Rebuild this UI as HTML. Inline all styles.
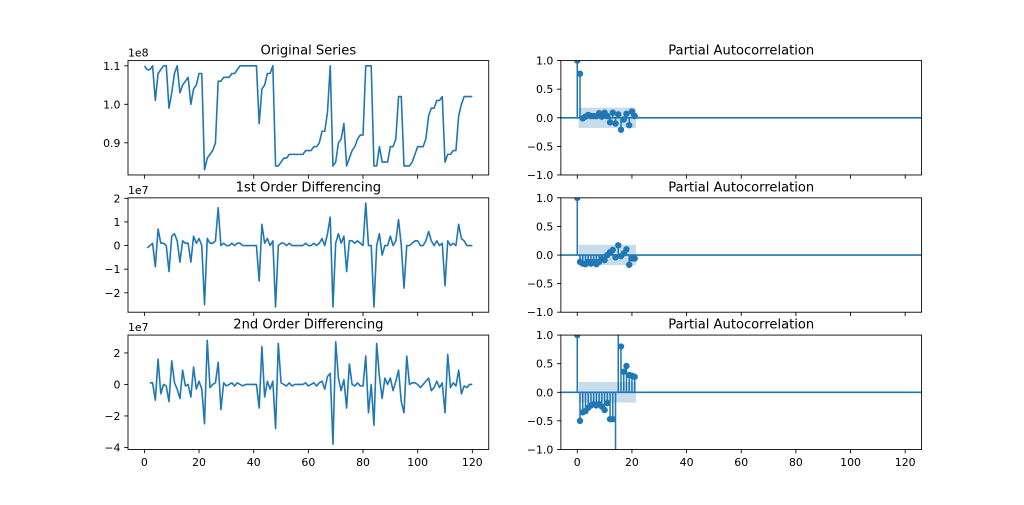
<!DOCTYPE html>
<html>
<head>
<meta charset="utf-8">
<style>
html,body{margin:0;padding:0;background:#fff;}
svg{display:block;}
text{font-family:"DejaVu Sans","Liberation Sans",sans-serif;fill:#000;}
.tk{font-size:10.9px;}
.tt{font-size:13.1px;}
</style>
</head>
<body>
<svg width="1024" height="505" viewBox="0 0 1024 505" xmlns="http://www.w3.org/2000/svg">
<rect x="0" y="0" width="1024" height="505" fill="#fff"/>
<defs>
<clipPath id="cL1"><rect x="128" y="60.6" width="360.73" height="114.37"/></clipPath>
<clipPath id="cL2"><rect x="128" y="197.84" width="360.73" height="114.37"/></clipPath>
<clipPath id="cL3"><rect x="128" y="335.08" width="360.73" height="114.37"/></clipPath>
<clipPath id="cR1"><rect x="560.87" y="60.6" width="360.73" height="114.37"/></clipPath>
<clipPath id="cR2"><rect x="560.87" y="197.84" width="360.73" height="114.37"/></clipPath>
<clipPath id="cR3"><rect x="560.87" y="335.08" width="360.73" height="114.37"/></clipPath>
</defs>

<!-- ===== Left column series ===== -->
<g clip-path="url(#cL1)">
<polyline transform="matrix(2.73278,0,0,-3.85077,144.397,489.383)" vector-effect="non-scaling-stroke" fill="none" stroke="#1f77b4" stroke-width="1.6" stroke-linejoin="round" points="0,110 1,109 2,109 3,110 4,101 5,108 6,109 7,110 8,110 9,99 10,103 11,108 12,110 13,103 14,105 15,106 16,107 17,100 18,104 19,105 20,108 21,108 22,83 23,86 24,87 25,88 26,90 27,106 28,106 29,107 30,107 31,107 32,108 33,108 34,109 35,110 36,110 37,110 38,110 39,110 40,110 41,110 42,95 43,104 44,105 45,108 46,108 47,110 48,84 49,84 50,85 51,86 52,86 53,87 54,87 55,87 56,87 57,87 58,87 59,88 60,88 61,88 62,89 63,89 64,90 65,93 66,93 67,98 68,110 69,84 70,85 71,90 72,91 73,95 74,84 75,86 76,88 77,89 78,91 79,92 80,92 81,110 82,110 83,110 84,84 85,84 86,89 87,85 88,85 89,85 90,89 91,89 92,91 93,102 94,102 95,84 96,84 97,84 98,85 99,87 100,89 101,89 102,89 103,91 104,97 105,99 106,99 107,101 108,101 109,102 110,85 111,87 112,87 113,88 114,88 115,97 116,100 117,102 118,102 119,102 120,102"/>
</g>
<g clip-path="url(#cL2)">
<polyline transform="matrix(2.73278,0,0,-2.36298,144.397,245.574)" vector-effect="non-scaling-stroke" fill="none" stroke="#1f77b4" stroke-width="1.6" stroke-linejoin="round" points="1,-1 2,0 3,1 4,-9 5,7 6,1 7,1 8,0 9,-11 10,4 11,5 12,2 13,-7 14,2 15,1 16,1 17,-7 18,4 19,1 20,3 21,0 22,-25 23,3 24,1 25,1 26,2 27,16 28,0 29,1 30,0 31,0 32,1 33,0 34,1 35,1 36,0 37,0 38,0 39,0 40,0 41,0 42,-15 43,9 44,1 45,3 46,0 47,2 48,-26 49,0 50,1 51,1 52,0 53,1 54,0 55,0 56,0 57,0 58,0 59,1 60,0 61,0 62,1 63,0 64,1 65,3 66,0 67,5 68,12 69,-26 70,1 71,5 72,1 73,4 74,-11 75,2 76,2 77,1 78,2 79,1 80,0 81,18 82,0 83,0 84,-26 85,0 86,5 87,-4 88,0 89,0 90,4 91,0 92,2 93,11 94,0 95,-18 96,0 97,0 98,1 99,2 100,2 101,0 102,0 103,2 104,6 105,2 106,0 107,2 108,0 109,1 110,-17 111,2 112,0 113,1 114,0 115,9 116,3 117,2 118,0 119,0 120,0"/>
</g>
<g clip-path="url(#cL3)">
<polyline transform="matrix(2.73278,0,0,-1.57531,144.397,384.391)" vector-effect="non-scaling-stroke" fill="none" stroke="#1f77b4" stroke-width="1.6" stroke-linejoin="round" points="2,1 3,1 4,-10 5,16 6,-6 7,0 8,-1 9,-11 10,15 11,1 12,-3 13,-9 14,9 15,-1 16,0 17,-8 18,11 19,-3 20,2 21,-3 22,-25 23,28 24,-2 25,0 26,1 27,14 28,-16 29,1 30,-1 31,0 32,1 33,-1 34,1 35,0 36,-1 37,0 38,0 39,0 40,0 41,0 42,-15 43,24 44,-8 45,2 46,-3 47,2 48,-28 49,26 50,1 51,0 52,-1 53,1 54,-1 55,0 56,0 57,0 58,0 59,1 60,-1 61,0 62,1 63,-1 64,1 65,2 66,-3 67,5 68,7 69,-38 70,27 71,4 72,-4 73,3 74,-15 75,13 76,0 77,-1 78,1 79,-1 80,-1 81,18 82,-18 83,0 84,-26 85,26 86,5 87,-9 88,4 89,0 90,4 91,-4 92,2 93,9 94,-11 95,-18 96,18 97,0 98,1 99,1 100,0 101,-2 102,0 103,2 104,4 105,-4 106,-2 107,2 108,-2 109,1 110,-18 111,19 112,-2 113,1 114,-1 115,9 116,-6 117,-1 118,-2 119,0 120,0"/>
</g>

<!-- ===== Right column PACF ===== -->
<!-- Row 1 -->
<g clip-path="url(#cR1)">
<path fill="none" stroke="#1f77b4" stroke-width="1.5" d="M577.27 117.78V60.6 M580.00 117.78V73.75 M582.74 117.78V118.36 M585.47 117.78V116.64 M588.20 117.78V114.93 M590.93 117.78V116.07 M593.67 117.78V116.07 M596.40 117.78V116.07 M599.13 117.78V113.21 M601.87 117.78V116.64 M604.60 117.78V112.64 M607.33 117.78V116.07 M610.06 117.78V122.36 M612.80 117.78V112.64 M615.53 117.78V123.50 M618.26 117.78V114.35 M620.99 117.78V129.79 M623.73 117.78V119.50 M626.46 117.78V113.78 M629.20 117.78V125.22 M631.93 117.78V111.49 M634.66 117.78V116.07"/>
<line x1="560.87" y1="117.78" x2="921.6" y2="117.78" stroke="#1f77b4" stroke-width="1.6"/>
<g fill="#1f77b4">
<circle cx="577.27" cy="60.6" r="3.2"/><circle cx="580.00" cy="73.75" r="3.2"/><circle cx="582.74" cy="118.36" r="3.2"/><circle cx="585.47" cy="116.64" r="3.2"/><circle cx="588.20" cy="114.93" r="3.2"/><circle cx="590.93" cy="116.07" r="3.2"/><circle cx="593.67" cy="116.07" r="3.2"/><circle cx="596.40" cy="116.07" r="3.2"/><circle cx="599.13" cy="113.21" r="3.2"/><circle cx="601.87" cy="116.64" r="3.2"/><circle cx="604.60" cy="112.64" r="3.2"/><circle cx="607.33" cy="116.07" r="3.2"/><circle cx="610.06" cy="122.36" r="3.2"/><circle cx="612.80" cy="112.64" r="3.2"/><circle cx="615.53" cy="123.50" r="3.2"/><circle cx="618.26" cy="114.35" r="3.2"/><circle cx="620.99" cy="129.79" r="3.2"/><circle cx="623.73" cy="119.50" r="3.2"/><circle cx="626.46" cy="113.78" r="3.2"/><circle cx="629.20" cy="125.22" r="3.2"/><circle cx="631.93" cy="111.49" r="3.2"/><circle cx="634.66" cy="116.07" r="3.2"/>
</g>
<rect x="578.64" y="107.60" width="57.39" height="20.36" fill="#1f77b4" fill-opacity="0.25"/>
</g>

<!-- Row 2 -->
<g clip-path="url(#cR2)">
<path fill="none" stroke="#1f77b4" stroke-width="1.5" d="M577.27 255.03V197.84 M580.00 255.03V261.89 M582.74 255.03V263.60 M585.47 255.03V264.18 M588.20 255.03V261.89 M590.93 255.03V263.60 M593.67 255.03V261.89 M596.40 255.03V264.18 M599.13 255.03V261.89 M601.87 255.03V259.03 M604.60 255.03V260.17 M607.33 255.03V255.03 M610.06 255.03V252.17 M612.80 255.03V249.88 M615.53 255.03V257.31 M618.26 255.03V245.30 M620.99 255.03V256.17 M623.73 255.03V253.31 M626.46 255.03V249.31 M629.20 255.03V264.75 M631.93 255.03V258.46 M634.66 255.03V258.46"/>
<line x1="560.87" y1="255.03" x2="921.6" y2="255.03" stroke="#1f77b4" stroke-width="1.6"/>
<g fill="#1f77b4">
<circle cx="577.27" cy="197.84" r="3.2"/><circle cx="580.00" cy="261.89" r="3.2"/><circle cx="582.74" cy="263.60" r="3.2"/><circle cx="585.47" cy="264.18" r="3.2"/><circle cx="588.20" cy="261.89" r="3.2"/><circle cx="590.93" cy="263.60" r="3.2"/><circle cx="593.67" cy="261.89" r="3.2"/><circle cx="596.40" cy="264.18" r="3.2"/><circle cx="599.13" cy="261.89" r="3.2"/><circle cx="601.87" cy="259.03" r="3.2"/><circle cx="604.60" cy="260.17" r="3.2"/><circle cx="607.33" cy="255.03" r="3.2"/><circle cx="610.06" cy="252.17" r="3.2"/><circle cx="612.80" cy="249.88" r="3.2"/><circle cx="615.53" cy="257.31" r="3.2"/><circle cx="618.26" cy="245.30" r="3.2"/><circle cx="620.99" cy="256.17" r="3.2"/><circle cx="623.73" cy="253.31" r="3.2"/><circle cx="626.46" cy="249.31" r="3.2"/><circle cx="629.20" cy="264.75" r="3.2"/><circle cx="631.93" cy="258.46" r="3.2"/><circle cx="634.66" cy="258.46" r="3.2"/>
</g>
<rect x="578.64" y="244.79" width="57.39" height="20.47" fill="#1f77b4" fill-opacity="0.25"/>
</g>

<!-- Row 3 -->
<g clip-path="url(#cR3)">
<path fill="none" stroke="#1f77b4" stroke-width="1.5" d="M577.27 392.27V335.08 M580.00 392.27V420.86 M582.74 392.27V412.28 M585.47 392.27V411.14 M588.20 392.27V407.71 M590.93 392.27V405.42 M593.67 392.27V404.28 M596.40 392.27V405.42 M599.13 392.27V404.28 M601.87 392.27V406.56 M604.60 392.27V409.99 M607.33 392.27V403.13 M610.06 392.27V419.14 M612.80 392.27V419.14 M615.53 392.27V470 M618.26 392.27V320 M620.99 392.27V346.52 M623.73 392.27V371.68 M626.46 392.27V365.96 M629.20 392.27V375.11 M631.93 392.27V375.69 M634.66 392.27V376.83"/>
<line x1="560.87" y1="392.27" x2="921.6" y2="392.27" stroke="#1f77b4" stroke-width="1.6"/>
<g fill="#1f77b4">
<circle cx="577.27" cy="335.08" r="3.2"/><circle cx="580.00" cy="420.86" r="3.2"/><circle cx="582.74" cy="412.28" r="3.2"/><circle cx="585.47" cy="411.14" r="3.2"/><circle cx="588.20" cy="407.71" r="3.2"/><circle cx="590.93" cy="405.42" r="3.2"/><circle cx="593.67" cy="404.28" r="3.2"/><circle cx="596.40" cy="405.42" r="3.2"/><circle cx="599.13" cy="404.28" r="3.2"/><circle cx="601.87" cy="406.56" r="3.2"/><circle cx="604.60" cy="409.99" r="3.2"/><circle cx="607.33" cy="403.13" r="3.2"/><circle cx="610.06" cy="419.14" r="3.2"/><circle cx="612.80" cy="419.14" r="3.2"/><circle cx="620.99" cy="346.52" r="3.2"/><circle cx="623.73" cy="371.68" r="3.2"/><circle cx="626.46" cy="365.96" r="3.2"/><circle cx="629.20" cy="375.11" r="3.2"/><circle cx="631.93" cy="375.69" r="3.2"/><circle cx="634.66" cy="376.83" r="3.2"/>
</g>
<rect x="578.64" y="381.98" width="57.39" height="20.58" fill="#1f77b4" fill-opacity="0.25"/>
</g>

<!-- ===== Spines ===== -->
<g fill="none" stroke="#000" stroke-width="0.87">
<rect x="128" y="60.6" width="360.73" height="114.37"/>
<rect x="128" y="197.84" width="360.73" height="114.37"/>
<rect x="128" y="335.08" width="360.73" height="114.37"/>
<rect x="560.87" y="60.6" width="360.73" height="114.37"/>
<rect x="560.87" y="197.84" width="360.73" height="114.37"/>
<rect x="560.87" y="335.08" width="360.73" height="114.37"/>
</g>

<!-- ===== X ticks ===== -->
<g stroke="#000" stroke-width="0.87">
<path d="M144.40 174.97v3.8 M199.05 174.97v3.8 M253.71 174.97v3.8 M308.36 174.97v3.8 M363.02 174.97v3.8 M417.67 174.97v3.8 M472.33 174.97v3.8
M144.40 312.21v3.8 M199.05 312.21v3.8 M253.71 312.21v3.8 M308.36 312.21v3.8 M363.02 312.21v3.8 M417.67 312.21v3.8 M472.33 312.21v3.8
M144.40 449.45v3.8 M199.05 449.45v3.8 M253.71 449.45v3.8 M308.36 449.45v3.8 M363.02 449.45v3.8 M417.67 449.45v3.8 M472.33 449.45v3.8
M577.27 174.97v3.8 M631.93 174.97v3.8 M686.58 174.97v3.8 M741.24 174.97v3.8 M795.89 174.97v3.8 M850.55 174.97v3.8 M905.20 174.97v3.8
M577.27 312.21v3.8 M631.93 312.21v3.8 M686.58 312.21v3.8 M741.24 312.21v3.8 M795.89 312.21v3.8 M850.55 312.21v3.8 M905.20 312.21v3.8
M577.27 449.45v3.8 M631.93 449.45v3.8 M686.58 449.45v3.8 M741.24 449.45v3.8 M795.89 449.45v3.8 M850.55 449.45v3.8 M905.20 449.45v3.8"/>
<!-- Y ticks left -->
<path d="M128 142.81h-3.8 M128 104.31h-3.8 M128 65.80h-3.8
M128 198.31h-3.8 M128 221.94h-3.8 M128 245.57h-3.8 M128 269.20h-3.8 M128 292.83h-3.8
M128 352.88h-3.8 M128 384.39h-3.8 M128 415.90h-3.8 M128 447.40h-3.8"/>
<!-- Y ticks right -->
<path d="M560.87 60.6h-3.8 M560.87 89.19h-3.8 M560.87 117.78h-3.8 M560.87 146.38h-3.8 M560.87 174.97h-3.8
M560.87 197.84h-3.8 M560.87 226.43h-3.8 M560.87 255.03h-3.8 M560.87 283.62h-3.8 M560.87 312.21h-3.8
M560.87 335.08h-3.8 M560.87 363.68h-3.8 M560.87 392.27h-3.8 M560.87 420.86h-3.8 M560.87 449.45h-3.8"/>
</g>

<!-- ===== Tick labels ===== -->
<g class="tk" text-anchor="end">
<text x="120.4" y="146.8">0.9</text>
<text x="120.4" y="108.3">1.0</text>
<text x="120.4" y="69.8">1.1</text>

<text x="120.4" y="202.3">2</text>
<text x="120.4" y="225.9">1</text>
<text x="120.4" y="249.6">0</text>
<text x="120.4" y="273.2">−1</text>
<text x="120.4" y="296.8">−2</text>

<text x="120.4" y="356.9">2</text>
<text x="120.4" y="388.4">0</text>
<text x="120.4" y="419.9">−2</text>
<text x="120.4" y="451.4">−4</text>

<text x="553.3" y="64.6">1.0</text>
<text x="553.3" y="93.2">0.5</text>
<text x="553.3" y="121.8">0.0</text>
<text x="553.3" y="150.4">−0.5</text>
<text x="553.3" y="179.0">−1.0</text>

<text x="553.3" y="201.8">1.0</text>
<text x="553.3" y="230.4">0.5</text>
<text x="553.3" y="259.0">0.0</text>
<text x="553.3" y="287.6">−0.5</text>
<text x="553.3" y="316.2">−1.0</text>

<text x="553.3" y="339.1">1.0</text>
<text x="553.3" y="367.7">0.5</text>
<text x="553.3" y="396.3">0.0</text>
<text x="553.3" y="424.9">−0.5</text>
<text x="553.3" y="453.5">−1.0</text>
</g>

<g class="tk" text-anchor="middle">
<text x="144.40" y="466">0</text>
<text x="199.05" y="466">20</text>
<text x="253.71" y="466">40</text>
<text x="308.36" y="466">60</text>
<text x="363.02" y="466">80</text>
<text x="417.67" y="466">100</text>
<text x="472.33" y="466">120</text>
<text x="577.27" y="466">0</text>
<text x="631.93" y="466">20</text>
<text x="686.58" y="466">40</text>
<text x="741.24" y="466">60</text>
<text x="795.89" y="466">80</text>
<text x="850.55" y="466">100</text>
<text x="905.20" y="466">120</text>
</g>

<!-- Offset texts -->
<g class="tk">
<text x="128" y="56.6">1e8</text>
<text x="128" y="193.8">1e7</text>
<text x="128" y="331.1">1e7</text>
</g>

<!-- Titles -->
<g class="tt" text-anchor="middle">
<text x="308.36" y="54.3">Original Series</text>
<text x="308.36" y="191.5">1st Order Differencing</text>
<text x="308.36" y="328.7">2nd Order Differencing</text>
<text x="741.24" y="54.3">Partial Autocorrelation</text>
<text x="741.24" y="191.5">Partial Autocorrelation</text>
<text x="741.24" y="328.7">Partial Autocorrelation</text>
</g>
</svg>
</body>
</html>
